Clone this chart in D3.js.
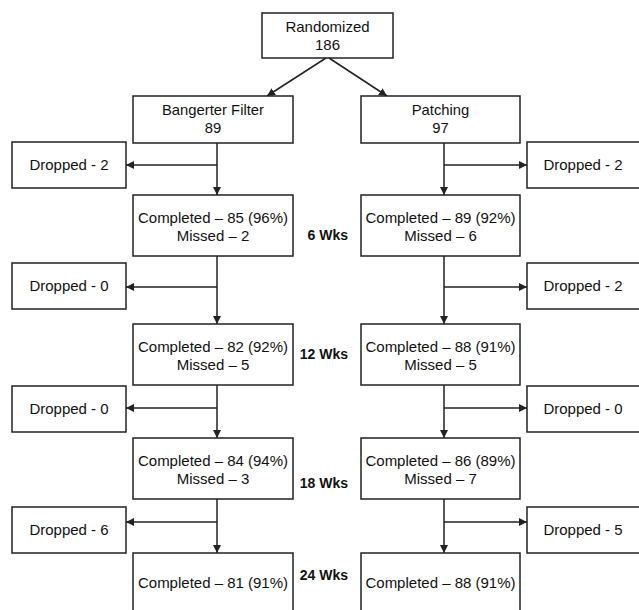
<!DOCTYPE html>
<html><head><meta charset="utf-8">
<script src="https://cdn.jsdelivr.net/npm/d3@7"></script>
<style>body{margin:0;background:#fff}svg{display:block}</style>
</head><body><div id="c"></div>
<script>
// ---- data ----
const totalLabel = "Randomized";
const totalN = 186;
const arms = ["Bangerter Filter", "Patching"];
const armN = [89, 97];
const weeks = ["6 Wks", "12 Wks", "18 Wks", "24 Wks"];
const filterDropped = [2, 0, 0, 6];
const patchDropped = [2, 2, 0, 5];
const filterCompleted = [85, 82, 84, 81];
const filterPct = [96, 92, 94, 91];
const filterMissed = [2, 5, 3, null];
const patchCompleted = [89, 88, 86, 88];
const patchPct = [92, 91, 89, 91];
const patchMissed = [6, 5, 7, null];

// ---- layout ----
const W = 639, H = 610;
const svg = d3.select("#c").append("svg").attr("width", W).attr("height", H);
const font = "Liberation Sans, Arial, sans-serif";
const stroke = "#222";

const stageTop = d3.scaleOrdinal().domain(weeks).range([195, 324, 438, 553]);
const dropTop = d3.scaleOrdinal().domain(weeks).range([142, 263, 386, 507]);
const dropLineY = d3.scaleOrdinal().domain(weeks).range([165, 287, 408, 522]);
const wkY = d3.scaleOrdinal().domain(weeks).range([240, 359, 488, 580]);

const col = [
  {box: [133, 293], line: 217, drop: [12, 126], dir: -1},
  {box: [361, 520], line: 444, drop: [527, 650], dir: 1}
];
const boxH = 61, dropH = 46;

svg.append("defs").append("marker").attr("id", "ah")
  .attr("viewBox", "0 0 10 10").attr("refX", 10).attr("refY", 5)
  .attr("markerWidth", 8).attr("markerHeight", 8).attr("markerUnits", "userSpaceOnUse")
  .attr("orient", "auto")
  .append("path").attr("d", "M0,0L10,5L0,10Z").attr("fill", stroke);

function box(x0, x1, y0, y1) {
  svg.append("rect").attr("x", x0).attr("y", y0).attr("width", x1 - x0).attr("height", y1 - y0)
    .attr("fill", "#fff").attr("stroke", stroke).attr("stroke-width", 1.5);
}
function text(x, y, s, size, weight, anchor) {
  svg.append("text").attr("x", x).attr("y", y).attr("text-anchor", anchor || "middle")
    .attr("font-family", font).attr("font-size", size).attr("font-weight", weight || "normal")
    .attr("fill", "#111").text(s);
}
function arrow(x0, y0, x1, y1) {
  svg.append("line").attr("x1", x0).attr("y1", y0).attr("x2", x1).attr("y2", y1)
    .attr("stroke", stroke).attr("stroke-width", 1.5).attr("marker-end", "url(#ah)");
}

// top box
box(262, 393, 13, 58);
text(327.5, 32, totalLabel, 15);
text(327.5, 50, totalN, 15);
arrow(326, 58, 267, 96);
arrow(329, 58, 387, 96);

const dropped = [filterDropped, patchDropped];
const comp = [filterCompleted, patchCompleted];
const pct = [filterPct, patchPct];
const missed = [filterMissed, patchMissed];

arms.forEach((a, i) => {
  const c = col[i];
  const cx = (c.box[0] + c.box[1]) / 2;
  box(c.box[0], c.box[1], 96, 143);
  text(cx, 115, a, 14.8);
  text(cx, 133, armN[i], 14.8);
  let prevBottom = 143;
  weeks.forEach((w, k) => {
    const top = stageTop(w);
    const bottom = k === weeks.length - 1 ? 625 : top + boxH;
    arrow(c.line, prevBottom, c.line, top);
    const ly = dropLineY(w);
    const dt = dropTop(w);
    arrow(c.line, ly, c.dir < 0 ? c.drop[1] : c.drop[0], ly);
    box(c.drop[0], c.drop[1], dt, dt + dropH);
    const dcx = i === 0 ? (c.drop[0] + c.drop[1]) / 2 : 583;
    text(dcx, dt + 28, "Dropped - " + dropped[i][k], 15);
    box(c.box[0], c.box[1], top, bottom);
    const cl = "Completed \u2013 " + comp[i][k] + " (" + pct[i][k] + "%)";
    if (missed[i][k] !== null) {
      text(cx, top + 28, cl, 15);
      text(cx, top + 46, "Missed \u2013 " + missed[i][k], 15);
    } else {
      text(cx, top + 35, cl, 15);
    }
    prevBottom = bottom;
  });
});

weeks.forEach(w => text(348, wkY(w), w, 14, "bold", "end"));
</script></body></html>
